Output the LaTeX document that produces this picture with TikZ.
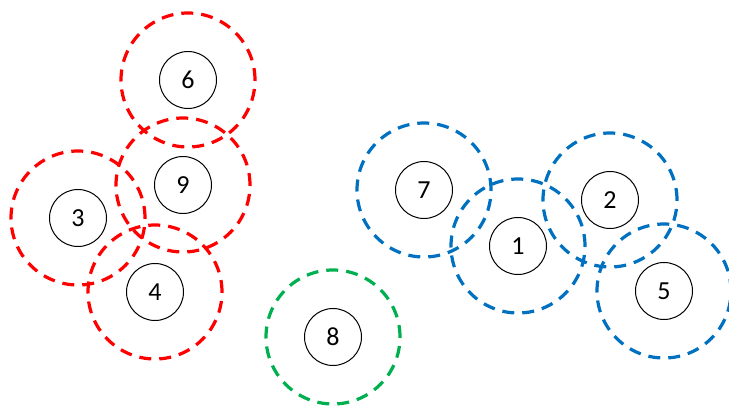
\documentclass[tikz,border=0pt]{standalone}
\usepackage{fontspec}
\setmainfont{Carlito}
\definecolor{cred}{HTML}{FF0000}
\definecolor{cblue}{HTML}{0070C0}
\definecolor{cgreen}{HTML}{00B050}
\begin{document}
\begin{tikzpicture}[x=1pt,y=-1pt,
  pt/.style={circle,draw=black,line width=1pt,minimum size=57pt,inner sep=0pt,font=\fontsize{26}{26}\selectfont},
  zone/.style={circle,draw=#1,line width=3.2pt,dash pattern=on 12pt off 8pt,minimum size=134pt,inner sep=0pt},
]
\useasboundingbox (0,0) rectangle (729,406);
% zones
\node[zone=cred] (z6) at (188,80) {};
\node[zone=cred] (z9) at (183,185) {};
\node[zone=cred] (z3) at (78,218) {};
\node[zone=cred] (z4) at (155,292) {};
\node[zone=cgreen] (z8) at (333,337) {};
\node[zone=cblue] (z7) at (424,190) {};
\node[zone=cblue] (z1) at (518,246) {};
\node[zone=cblue] (z2) at (610,200) {};
\node[zone=cblue] (z5) at (664,291) {};
% points
\node[pt] (p6) at (188,80) {6};
\node[pt] (p9) at (183,185) {9};
\node[pt] (p3) at (78,218) {3};
\node[pt] (p4) at (155,292) {4};
\node[pt] (p8) at (333,337) {8};
\node[pt] (p7) at (424,190) {7};
\node[pt] (p1) at (518,246) {1};
\node[pt] (p2) at (610,200) {2};
\node[pt] (p5) at (664,291) {5};
\end{tikzpicture}
\end{document}
